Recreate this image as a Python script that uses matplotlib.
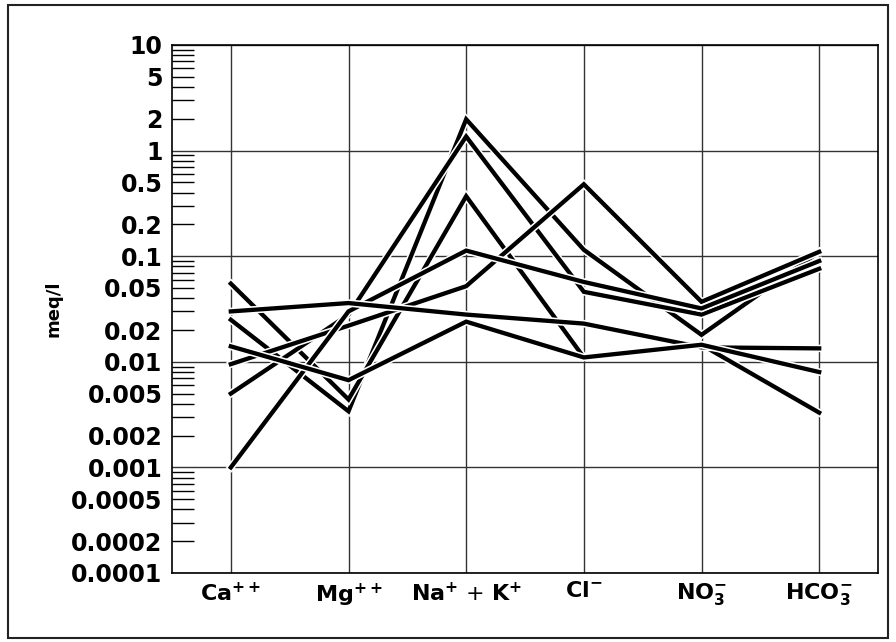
import math
import matplotlib
matplotlib.use('Agg')
import matplotlib.pyplot as plt
import matplotlib.patheffects as pe
from matplotlib.patches import Rectangle
from matplotlib.ticker import LogLocator, FuncFormatter

plt.rcParams['font.family'] = 'DejaVu Sans'
plt.rcParams['mathtext.fontset'] = 'dejavusans'
plt.rcParams['mathtext.default'] = 'bf'

# Schoeller diagram, meq/l per sample
ions = [r'$Ca^{++}$', r'$Mg^{++}$', r'$Na^{+}$ + $K^{+}$', r'$Cl^{-}$', r'$NO_3^{-}$', r'$HCO_3^{-}$']
sample1 = [0.025, 0.0034, 1.98, 0.115, 0.018, 0.11]
sample2 = [0.055, 0.0044, 0.37, 0.011, 0.0145, 0.0033]
sample3 = [0.005, 0.028, 1.36, 0.046, 0.028, 0.076]
sample4 = [0.0095, 0.022, 0.052, 0.48, 0.037, 0.11]
sample5 = [0.001, 0.030, 0.113, 0.057, 0.032, 0.09]
sample6 = [0.030, 0.036, 0.028, 0.023, 0.0137, 0.0134]
sample7 = [0.014, 0.0067, 0.024, 0.011, 0.0145, 0.008]
samples = [sample1, sample2, sample3, sample4, sample5, sample6, sample7]

fig = plt.figure(figsize=(8.96, 6.42), dpi=100)
ax = fig.add_axes([172 / 896, 1 - 573 / 642, 706 / 896, 528 / 642])

x = list(range(len(ions)))
halo = [pe.Stroke(linewidth=5.4, foreground='white'), pe.Normal()]
for s in samples:
    ax.plot(x, s, color='black', lw=3.1, solid_joinstyle='miter',
            path_effects=halo, zorder=3)

ax.set_yscale('log')
ax.set_ylim(1e-4, 10)
ax.set_xlim(-0.5, len(ions) - 0.5)

ax.yaxis.set_major_locator(LogLocator(base=10, numticks=10))
ax.yaxis.set_minor_locator(LogLocator(base=10, subs=range(2, 10), numticks=10))


def fmt(v, pos=None):
    return ('%.4f' % v).rstrip('0').rstrip('.')


def fmt_minor(v, pos=None):
    m = round(v / 10 ** math.floor(math.log10(v) + 1e-9), 3)
    return fmt(v) if m in (2.0, 5.0) else ''


ax.yaxis.set_major_formatter(FuncFormatter(fmt))
ax.yaxis.set_minor_formatter(FuncFormatter(fmt_minor))
ax.tick_params(axis='y', which='minor', direction='in', length=16, width=1.0,
               labelsize=17, pad=7)
ax.tick_params(axis='y', which='major', direction='in', length=0,
               labelsize=17, pad=7)
for lab in ax.get_yticklabels(which='both'):
    lab.set_fontweight('bold')

ax.set_xticks(x)
ax.set_xticklabels(ions, fontsize=16)
ax.tick_params(axis='x', length=0, pad=6)

ax.grid(True, which='major', color='#333333', lw=1.0)
ax.set_axisbelow(True)
for sp in ax.spines.values():
    sp.set_linewidth(1.2)

ax.set_ylabel('meq/l', fontsize=13, fontweight='bold', labelpad=6)

fig.patches.append(Rectangle((8 / 896, 4 / 642), 880 / 896, 633 / 642,
                             transform=fig.transFigure, fill=False,
                             lw=1.5, ec='#222222'))

fig.savefig('out.png', dpi=100)
